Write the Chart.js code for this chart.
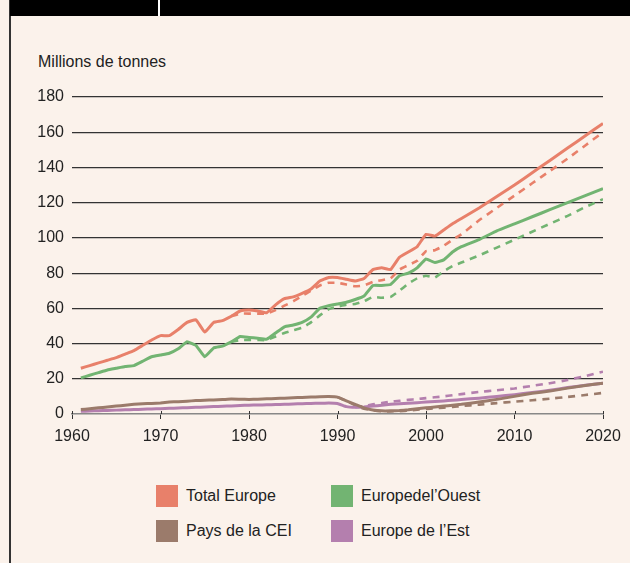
<!DOCTYPE html>
<html lang="fr">
<head>
  <meta charset="UTF-8">
  <title>Millions de tonnes</title>
  <script src="https://cdn.jsdelivr.net/npm/chart.js"></script>
  <style>
    html, body { margin: 0; padding: 0; }
    body { width: 630px; height: 563px; background: #fbf2eb; position: relative; overflow: hidden;
           font-family: "Liberation Sans", Arial, sans-serif; color: #222; }
    .topbar { position: absolute; left: 10px; top: 0; width: 620px; height: 16px; background: #000; }
    .topbar .sep { position: absolute; left: 148px; top: 0; width: 2px; height: 16px; background: #fff; }
    .leftline { position: absolute; left: 9px; top: 0; width: 2px; height: 563px; background: #333; }
    .ytitle { position: absolute; left: 38px; top: 53px; font-size: 16px; }
    #wrap { position: absolute; left: 0; top: 0; width: 630px; height: 460px; }
    .leg { position: absolute; font-size: 16px; line-height: 22px; }
    .leg span { display: inline-block; width: 22px; height: 22px; vertical-align: top; margin-right: 8px; }
  </style>
</head>
<body>
  <div class="leftline"></div>
  <div class="topbar"><div class="sep"></div></div>
  <div class="ytitle">Millions de tonnes</div>
  <div id="wrap"><canvas id="c"></canvas></div>
  <div id="legend"></div>
  <script>
    // années
    const years = [1961,1962,1963,1964,1965,1966,1967,1968,1969,1970,
      1971,1972,1973,1974,1975,1976,1977,1978,1979,1980,
      1981,1982,1983,1984,1985,1986,1987,1988,1989,1990,
      1991,1992,1993,1994,1995,1996,1997,1998,1999,2000,
      2001,2002,2003,2004,
      2006,2008,2010,2012,2014,2016,2018,2020];

    const totalEurope = [26,27.5,29,30.5,32,34,36,39,42,44.5,
      44.5,48,52,53.5,46.5,52,53,55.5,58.5,59,
      58.5,57.5,62,65.5,66.5,68.5,71,75.5,77.5,77.5,
      76.5,75.5,77,82,83,82,89,92,95,102,
      101,104.5,108,111,
      117,123.5,130,137,144,151,158,165];
    const totalEuropeBis = [null,null,null,null,null,null,null,null,null,null,
      null,null,null,null,null,null,null,55.5,57,57,
      57,57,59,61.5,64,67,70,73,74.5,74.5,
      73.5,72.5,73,75,76,77,82,84.5,87,92.5,
      93,95.5,99,102,
      110,117,124,131,138,145,152.5,160];

    const ouest = [20.5,22,23.5,25,26,27,27.5,30,32.5,33.5,
      34.5,37,41,39,32.5,37.5,38.5,41,44,43.5,
      43,42.5,46,49.5,50.5,52,55,60,61.5,62.5,
      63.5,65,67,73,73,73.5,78.5,80,83,88,
      86,87.5,92,95,
      99,104,108,112,116,120,124,128];
    const ouestBis = [null,null,null,null,null,null,null,null,null,null,
      null,null,null,null,null,null,null,41,42,42,
      42,42,44,46,47.5,49,52,56,59.5,61,
      62,62.5,64,66.5,66,66.5,70,74,77,78.5,
      77.5,81,84,86,
      90,94.5,99,103.5,108,112.5,117.5,122];

    const cei = [2.5,3,3.5,4,4.5,5,5.5,5.8,6,6.3,
      6.8,7,7.3,7.6,7.8,8,8.2,8.5,8.4,8.3,
      8.4,8.6,8.8,9,9.2,9.4,9.6,9.8,9.9,9.6,
      7.5,5.5,3.5,2.3,1.8,1.8,2,2.4,3,3.5,
      4,4.5,5,5.5,
      6.8,8.3,10,11.8,13,14.7,16.2,17.5];
    const ceiBis = [null,null,null,null,null,null,null,null,null,null,
      null,null,null,null,null,null,null,null,null,null,
      null,null,null,null,null,null,null,null,null,9.6,
      7.5,5,3,2,1.5,1.5,1.6,2,2.4,2.8,
      3.2,3.6,4,4.5,
      5.3,6.2,7,7.8,8.7,9.7,10.8,12];

    const est = [1.5,1.7,1.9,2,2.2,2.4,2.5,2.7,2.9,3,
      3.2,3.4,3.6,3.8,4,4.2,4.4,4.6,4.8,5,
      5.1,5.2,5.4,5.5,5.7,5.8,6,6.1,6.3,6,
      4.2,3.8,4,4.5,5,5.5,5.8,6.1,6.4,6.8,
      7.1,7.4,7.8,8.2,
      9,10,11,12.2,13.5,15,16.3,17.5];
    const estBis = [null,null,null,null,null,null,null,null,null,null,
      null,null,null,null,null,null,null,null,null,null,
      null,null,null,null,null,null,null,null,null,null,
      null,3.8,4.5,5.5,6.2,7,7.5,8,8.5,9,
      9.5,10,10.7,11.3,
      12.5,13.5,14.5,16,17.5,19.3,21.5,24];

    const xTicks = [1960,1970,1980,1990,2000,2010,2020];
    const yTicks = [0,20,40,60,80,100,120,140,160,180];

    const labels = ["Total Europe", "Europedel\u2019Ouest", "Pays de la CEI", "Europe de l\u2019Est"];
    const colors = ["#e8806a", "#72b472", "#9b7b6b", "#b47fae"];
    const solid = [totalEurope, ouest, cei, est];
    const dashed = [totalEuropeBis, ouestBis, ceiBis, estBis];

    const pts = arr => years.map((x, i) => ({ x: x, y: arr[i] }));

    const datasets = [];
    dashed.forEach((arr, i) => datasets.push({
      label: labels[i] + " (b)", data: pts(arr), borderColor: colors[i],
      borderWidth: 2.6, borderDash: [7, 6], order: 2
    }));
    solid.forEach((arr, i) => datasets.push({
      label: labels[i], data: pts(arr), borderColor: colors[i],
      borderWidth: 3, order: 1
    }));

    // petits traits qui montent au-dessus de l'axe x
    const tickUp = {
      id: 'tickUp',
      afterDraw(chart) {
        const { ctx, scales: { x, y } } = chart;
        const y0 = y.getPixelForValue(0);
        ctx.save();
        ctx.strokeStyle = '#333';
        ctx.lineWidth = 1;
        xTicks.forEach(t => {
          const px = Math.round(x.getPixelForValue(t)) + 0.5;
          ctx.beginPath(); ctx.moveTo(px, y0 - 3); ctx.lineTo(px, y0); ctx.stroke();
        });
        ctx.restore();
      }
    };

    new Chart(document.getElementById('c'), {
      type: 'line',
      data: { datasets: datasets },
      plugins: [tickUp],
      options: {
        responsive: true,
        maintainAspectRatio: false,
        animation: false,
        layout: { padding: { left: 0, top: 97, right: 27, bottom: 0 } },
        elements: { point: { radius: 0 }, line: { tension: 0.1, borderCapStyle: 'butt' } },
        plugins: { legend: { display: false }, tooltip: { enabled: false } },
        scales: {
          x: {
            type: 'linear', min: 1960, max: 2020,
            afterBuildTicks: s => { s.ticks = xTicks.map(v => ({ value: v })); },
            afterFit: s => { s.height = 46; },
            grid: { drawOnChartArea: false, tickLength: 5, color: '#333' },
            border: { color: '#888', width: 1.5 },
            ticks: { color: '#222', font: { size: 16, family: 'Liberation Sans' }, padding: 8,
                     maxRotation: 0, callback: v => String(v) }
          },
          y: {
            min: 0, max: 180,
            afterBuildTicks: s => { s.ticks = yTicks.map(v => ({ value: v })); },
            afterFit: s => { s.width = 72; },
            grid: { drawTicks: false, lineWidth: 1.2,
                    color: c => c.tick && c.tick.value === 0 ? 'rgba(0,0,0,0)' : '#333' },
            border: { display: false },
            ticks: { color: '#222', font: { size: 16, family: 'Liberation Sans' }, padding: 8 }
          }
        }
      }
    });

    // légende en deux colonnes
    const legPos = [[156, 485], [331, 485], [156, 520], [331, 520]];
    const leg = document.getElementById('legend');
    labels.forEach((l, i) => {
      const d = document.createElement('div');
      d.className = 'leg';
      d.style.left = legPos[i][0] + 'px';
      d.style.top = legPos[i][1] + 'px';
      d.innerHTML = '<span style="background:' + colors[i] + '"></span>' + l;
      leg.appendChild(d);
    });
  </script>
</body>
</html>
